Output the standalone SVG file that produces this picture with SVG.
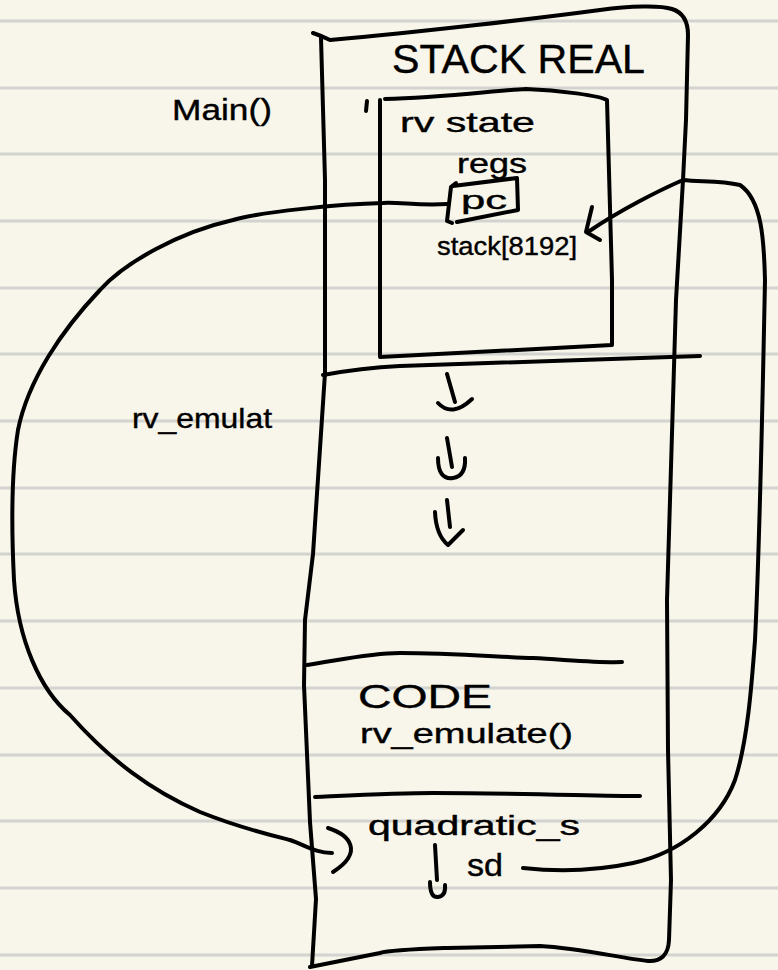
<svg xmlns="http://www.w3.org/2000/svg" width="778" height="970" viewBox="0 0 778 970">
<style>
.ink{fill:none;stroke:#000;stroke-width:4;stroke-linecap:round;stroke-linejoin:round}
.rule{stroke:#d3d3d0;stroke-width:3}
.t{font-family:"Liberation Sans","DejaVu Sans",sans-serif;fill:#000;stroke:#000;stroke-width:0.4}
</style>
<rect width="778" height="970" fill="#f8f6ea"/>
<g id="paper-lines">
<line class="rule" x1="0" y1="21" x2="778" y2="21"/>
<line class="rule" x1="0" y1="88" x2="778" y2="88"/>
<line class="rule" x1="0" y1="154" x2="778" y2="154"/>
<line class="rule" x1="0" y1="221" x2="778" y2="221"/>
<line class="rule" x1="0" y1="288" x2="778" y2="288"/>
<line class="rule" x1="0" y1="354" x2="778" y2="354"/>
<line class="rule" x1="0" y1="421" x2="778" y2="421"/>
<line class="rule" x1="0" y1="488" x2="778" y2="488"/>
<line class="rule" x1="0" y1="554" x2="778" y2="554"/>
<line class="rule" x1="0" y1="621" x2="778" y2="621"/>
<line class="rule" x1="0" y1="688" x2="778" y2="688"/>
<line class="rule" x1="0" y1="755" x2="778" y2="755"/>
<line class="rule" x1="0" y1="821" x2="778" y2="821"/>
<line class="rule" x1="0" y1="888" x2="778" y2="888"/>
<line class="rule" x1="0" y1="955" x2="778" y2="955"/>
</g>
<g id="stack-real">
<path class="ink" d="M313,33 Q322,36 330,40 C420,32 540,18 600,10 C630,6 660,5 672,9 Q688,14 688,35 L686,120 L683,180 L676,300 L670,500 L667,600 L668,750 L671,880 L669,940 Q668,962 648,961 C620,958 580,948 540,946 L447,948 C420,949 390,950 380,953 L310,967"/>
<path class="ink" d="M321,38 L325,180 L325,373 L313,554 L305,620 L304,685 L310,822 L316,899 L312,966"/>
<text class="t" x="392" y="73" font-size="40" textLength="253" lengthAdjust="spacingAndGlyphs">STACK REAL</text>
</g>
<g id="main-frame">
<text class="t" x="172" y="120" font-size="30" textLength="100" lengthAdjust="spacingAndGlyphs">Main()</text>
<path class="ink" d="M323,375 C350,370 380,367 400,366 L700,356"/>
</g>
<g id="rv-state">
<path class="ink" d="M367,101 L366,111"/>
<path class="ink" d="M385,99 C440,98 500,90 526,89 C560,90 600,96 607,100 L612,280 L612,345 L380,357 L380,100"/>
<text class="t" x="400" y="132" font-size="28" textLength="135" lengthAdjust="spacingAndGlyphs">rv state</text>
<text class="t" x="457" y="173" font-size="27" textLength="70" lengthAdjust="spacingAndGlyphs">regs</text>
<text class="t" x="437" y="255" font-size="26" textLength="140" lengthAdjust="spacingAndGlyphs">stack[8192]</text>
</g>
<g id="pc">
<path class="ink" d="M453,186 L517,178 L518,210 L457,222"/>
<path class="ink" d="M456,183 L451,187 L447,221 L452,223"/>
<text class="t" x="461" y="209" font-size="26" textLength="46" lengthAdjust="spacingAndGlyphs">pc</text>
</g>
<g id="rv-emulate-frame">
<text class="t" x="132" y="428" font-size="28" textLength="140" lengthAdjust="spacingAndGlyphs">rv_emulat</text>
<path class="ink" d="M447,374 L455,402"/>
<path class="ink" d="M438,403 Q452,418 472,399"/>
<path class="ink" d="M447,438 L452,467"/>
<path class="ink" d="M438,458 Q438,480 453,478 Q466,476 465,458"/>
<path class="ink" d="M447,500 L450,527"/>
<path class="ink" d="M435,512 Q436,535 448,545 L463,530"/>
</g>
<g id="code">
<path class="ink" d="M307,665 C340,660 370,653 400,653 C450,653 500,657 533,658 C570,660 600,663 622,662"/>
<text class="t" x="358" y="708" font-size="34" textLength="134" lengthAdjust="spacingAndGlyphs">CODE</text>
<text class="t" x="360" y="743" font-size="28" textLength="213" lengthAdjust="spacingAndGlyphs">rv_emulate()</text>
</g>
<g id="quadratic">
<path class="ink" d="M315,797 C360,795 400,793 433,793 C520,793 600,796 640,796"/>
<text class="t" x="368" y="835" font-size="28" textLength="212" lengthAdjust="spacingAndGlyphs">quadratic_s</text>
<text class="t" x="467" y="876" font-size="32" textLength="36" lengthAdjust="spacingAndGlyphs">sd</text>
<path class="ink" d="M435,845 L437,880"/>
<path class="ink" d="M430,882 Q430,898 438,897 Q446,896 445,885"/>
</g>
<g id="connectors">
<path class="ink" d="M447,204 C420,206 400,202 383,203 C340,204 260,212 233,220 C180,232 125,262 100,290 C62,330 28,380 18,430 C10,480 12,540 14,580 C18,640 40,690 70,715 C110,760 150,790 200,812 C240,828 270,835 290,840 C305,845 315,853 332,853"/>
<path class="ink" d="M328,828 C350,835 364,852 333,872"/>
<path class="ink" d="M523,868 C560,872 600,870 633,863 C680,853 720,820 735,780 C748,740 752,680 755,640 C760,540 764,330 765,280 C764,240 762,200 740,185 C720,180 700,182 683,180 C660,190 620,210 588,232"/>
<path class="ink" d="M592,207 L586,232 L600,240"/>
</g>
</svg>
